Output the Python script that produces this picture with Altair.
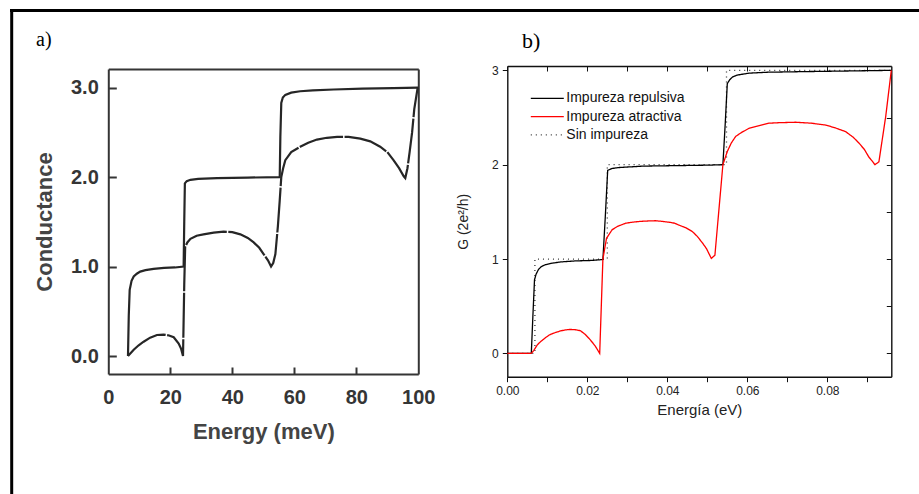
import altair as alt
import pandas as pd

# ---------------- data: panel a (scanned figure, Energy in meV) ----------------
a_up_e = [6.35, 6.6, 6.9, 7.5, 8.2, 9.2, 10.3, 12.0, 14.6, 18.0, 21.5, 24.3, 24.5, 24.7, 25.3,
          26.5, 29.0, 35.1, 45.0, 55.3, 55.5, 55.8, 56.3, 57.1, 59.0, 61.9, 66.0, 72.7, 82.0, 92.0, 100.0]
a_up_g = [0.0, 0.45, 0.74, 0.84, 0.89, 0.92, 0.944, 0.96, 0.975, 0.985, 0.99, 1.0, 1.5, 1.93, 1.955,
          1.97, 1.98, 1.99, 1.995, 2.0, 2.45, 2.83, 2.89, 2.92, 2.945, 2.96, 2.97, 2.98, 2.99, 2.995, 3.0]

a_low_e = [6.35, 8.2, 9.8, 11.4, 13.5, 15.7, 17.8, 19.6, 21.1, 22.7, 23.5, 24.1, 24.5, 24.8, 25.5,
           26.5, 28.5, 30.7, 34.0, 37.2, 40.0, 42.6, 45.0, 46.9, 48.7, 50.1, 51.5, 52.5, 53.2, 53.9,
           54.7, 55.3, 55.8, 56.4, 57.1, 59.0, 61.9, 64.5, 67.3, 70.5, 73.8, 77.5, 81.3, 84.5, 87.7,
           90.0, 92.0, 93.8, 95.3, 95.8, 96.5, 97.2, 98.0, 98.7, 99.8]
a_low_g = [0.0, 0.07, 0.12, 0.16, 0.205, 0.235, 0.24, 0.23, 0.21, 0.14, 0.08, 0.0, 0.8, 1.22, 1.27,
           1.31, 1.345, 1.36, 1.38, 1.39, 1.385, 1.36, 1.32, 1.27, 1.21, 1.14, 1.07, 1.0, 1.04, 1.14,
           1.45, 1.74, 2.0, 2.1, 2.19, 2.28, 2.34, 2.385, 2.42, 2.44, 2.45, 2.45, 2.43, 2.4, 2.34,
           2.28, 2.19, 2.1, 2.01, 1.99, 2.1, 2.28, 2.5, 2.76, 3.0]

a_xticks = [0, 20, 40, 60, 80, 100]
a_xticks_inner = [20, 40, 60, 80]
a_yticks = [0, 1, 2, 3]

# ---------------- data: panel b (Energía in eV) ----------------
series_names = ["Impureza repulsiva", "Impureza atractiva", "Sin impureza"]

b_rep_e = [0.0, 0.0060, 0.0064, 0.0068, 0.0072, 0.0078, 0.0085, 0.0095, 0.011, 0.0135,
           0.017, 0.021, 0.0239, 0.0245, 0.0251, 0.0262, 0.028, 0.034, 0.042, 0.050,
           0.0539, 0.0545, 0.0550, 0.0556, 0.0563, 0.0575, 0.0604, 0.065, 0.072, 0.080,
           0.088, 0.096]
b_rep_g = [0.0, 0.0, 0.4, 0.78, 0.84, 0.89, 0.92, 0.94, 0.955, 0.97,
           0.98, 0.985, 0.995, 1.45, 1.94, 1.96, 1.97, 1.985, 1.99, 1.995,
           2.0, 2.45, 2.86, 2.9, 2.93, 2.95, 2.97, 2.98, 2.985, 2.99,
           2.995, 3.0]

b_atr_e = [0.0, 0.0060, 0.0066, 0.0075, 0.0083, 0.0095, 0.0105, 0.0113, 0.0125, 0.0135,
           0.0147, 0.0158, 0.0172, 0.0183, 0.0195, 0.0204, 0.0214, 0.0221, 0.0231, 0.0239,
           0.0248, 0.0262, 0.0275, 0.0296, 0.0315, 0.0335, 0.0355, 0.0371, 0.0390, 0.0405,
           0.0418, 0.0429, 0.0447, 0.0463, 0.0475, 0.0488, 0.0498, 0.0510, 0.0519, 0.0539,
           0.0550, 0.0560, 0.0571, 0.0585, 0.0604, 0.0625, 0.0654, 0.0680, 0.0721, 0.0760,
           0.0796, 0.0820, 0.0846, 0.0865, 0.0879, 0.0893, 0.0904, 0.0912, 0.0919, 0.0929,
           0.0946, 0.0960]
b_atr_g = [0.0, 0.0, 0.03, 0.09, 0.124, 0.165, 0.195, 0.21, 0.228, 0.24,
           0.25, 0.254, 0.25, 0.24, 0.2, 0.16, 0.11, 0.07, 0.0, 1.0,
           1.22, 1.31, 1.345, 1.38, 1.392, 1.4, 1.404, 1.406, 1.398, 1.39,
           1.38, 1.36, 1.33, 1.29, 1.24, 1.17, 1.11, 1.007, 1.04, 2.0,
           2.14, 2.23, 2.3, 2.34, 2.385, 2.41, 2.44, 2.445, 2.45, 2.44,
           2.42, 2.39, 2.35, 2.29, 2.23, 2.16, 2.08, 2.04, 2.0, 2.03,
           2.51, 3.0]

b_sin_e = [0.0, 0.0069, 0.0069, 0.0250, 0.0250, 0.0548, 0.0548, 0.096]
b_sin_g = [0, 0, 1, 1, 2, 2, 3, 3]

b_xticks = [0.0, 0.01, 0.02, 0.03, 0.04, 0.05, 0.06, 0.07, 0.08, 0.09]
b_yticks = [0, 1, 2, 3]
b_yticks_minor = [0, 0.5, 1, 1.5, 2, 2.5, 3]

# ---------------- layout (pixels in a 919x494 canvas) ----------------
W, H = 919, 494
A_XR = [108.3, 418.3]
A_YR = [374.0, 69.0]
A_XD = [0, 100]
A_YD = [-0.201, 3.209]
B_XR = [507.3, 891.3]
B_YR = [376.7, 66.0]
B_XD = [0, 0.096]
B_YD = [-0.247, 3.046]

GREY = "#353535"
TGREY = "#444444"
SANS = "Liberation Sans"
SERIF = "Liberation Serif"

df_a_up = pd.DataFrame({"E": a_up_e, "G": a_up_g})
df_a_low = pd.DataFrame({"E": a_low_e, "G": a_low_g})

rows = []
for name, es, gs in [(series_names[2], b_sin_e, b_sin_g),
                     (series_names[0], b_rep_e, b_rep_g),
                     (series_names[1], b_atr_e, b_atr_g)]:
    for k, (e, g) in enumerate(zip(es, gs)):
        rows.append({"serie": name, "E": e, "G": g, "i": k})
df_b = pd.DataFrame(rows)


def ax_scale(dom, rng):
    return alt.Scale(domain=dom, range=rng, nice=False, zero=False)


# ---------- panel a ----------
a_x_sc = ax_scale(A_XD, A_XR)
a_y_sc = ax_scale(A_YD, A_YR)

a_main = alt.Chart(df_a_up).mark_line(color="#262626", strokeWidth=2.2).encode(
    x=alt.X("E:Q", scale=a_x_sc, axis=alt.Axis(
        orient="bottom", offset=A_YR[0] - H, values=a_xticks, ticks=False,
        domain=True, domainColor=GREY, domainWidth=2,
        labelFont=SANS, labelFontSize=20, labelFontWeight="bold", labelColor=GREY,
        labelPadding=13, labelFlush=False,
        title="Energy (meV)", titleFont=SANS, titleFontSize=22, titleFontWeight="bold",
        titleColor=TGREY, titlePadding=14)),
    y=alt.Y("G:Q", scale=a_y_sc, axis=alt.Axis(
        orient="left", offset=-A_XR[0], values=a_yticks, format=".1f", ticks=False,
        domain=True, domainColor=GREY, domainWidth=2,
        labelFont=SANS, labelFontSize=20, labelFontWeight="bold", labelColor=GREY,
        labelPadding=10,
        title="Conductance", titleFont=SANS, titleFontSize=22, titleFontWeight="bold",
        titleColor=TGREY, titlePadding=14)),
)

a_low = alt.Chart(df_a_low).mark_line(color="#262626", strokeWidth=2.2, strokeDash=[45, 1.5]).encode(
    x=alt.X("E:Q", scale=a_x_sc, axis=alt.Axis(
        orient="top", offset=-A_YR[0], values=a_xticks_inner, domain=False, labels=False,
        ticks=True, tickSize=7, tickWidth=2, tickColor=GREY, title=None)),
    y=alt.Y("G:Q", scale=a_y_sc, axis=alt.Axis(
        orient="right", offset=A_XR[0] - W, values=a_yticks, domain=False, labels=False,
        ticks=True, tickSize=8, tickWidth=2, tickColor=GREY, title=None)),
)

a_frame = alt.Chart(df_a_up).mark_line(opacity=0).encode(
    x=alt.X("E:Q", scale=a_x_sc, axis=alt.Axis(
        orient="bottom", offset=A_YR[1] - H, domain=True, domainColor=GREY, domainWidth=2,
        ticks=False, labels=False, title=None)),
    y=alt.Y("G:Q", scale=a_y_sc, axis=alt.Axis(
        orient="left", offset=-A_XR[1], domain=True, domainColor=GREY, domainWidth=2,
        ticks=False, labels=False, title=None)),
)

# ---------- panel b ----------
b_x_sc = ax_scale(B_XD, B_XR)
b_y_sc = ax_scale(B_YD, B_YR)

b_main = alt.Chart(df_b).mark_line(strokeWidth=1.3).encode(
    x=alt.X("E:Q", scale=b_x_sc, axis=alt.Axis(
        orient="bottom", offset=B_YR[0] - H, values=b_xticks,
        labelExpr="round(datum.value*100) % 2 == 0 ? format(datum.value, '.2f') : ''",
        tickSize=5, tickWidth=1, tickColor="#111", domainColor="#111", domainWidth=1.4,
        labelFont=SANS, labelFontSize=12, labelColor="#222", labelPadding=4, labelFlush=False,
        title="Energía (eV)", titleFont=SANS, titleFontSize=15, titleFontWeight="normal",
        titleColor="#222", titlePadding=6)),
    y=alt.Y("G:Q", scale=b_y_sc, axis=alt.Axis(
        orient="left", offset=-B_XR[0], values=b_yticks, format="d",
        tickSize=5, tickWidth=1, tickColor="#111", domainColor="#111", domainWidth=1.4,
        labelFont=SANS, labelFontSize=12, labelColor="#222", labelPadding=4,
        title="G (2e²/h)", titleFont=SANS, titleFontSize=14, titleFontWeight="normal",
        titleColor="#222", titlePadding=21)),
    color=alt.Color("serie:N", scale=alt.Scale(domain=series_names,
                                              range=["#000000", "#ff0000", "#333333"]),
                    legend=alt.Legend(
                        title=None, orient="none", legendX=540.3, legendY=91.3, padding=0,
                        symbolType="M-3,0H3", symbolSize=121, symbolStrokeWidth=1.3,
                        labelFont=SANS, labelFontSize=14, labelColor="#111",
                        labelOffset=12, rowPadding=4.3)),
    strokeDash=alt.StrokeDash("serie:N", scale=alt.Scale(domain=series_names,
                                                        range=[[1, 0], [1, 0], [1, 4]])),
    order="i:Q",
)

b_frame = alt.Chart(df_b).mark_line(opacity=0).encode(
    x=alt.X("E:Q", scale=b_x_sc, axis=alt.Axis(
        orient="bottom", offset=B_YR[1] - H, values=b_xticks, labels=False,
        tickSize=5, tickWidth=1, tickColor="#111", domainColor="#111", domainWidth=1.4,
        title=None)),
    y=alt.Y("G:Q", scale=b_y_sc, axis=alt.Axis(
        orient="left", offset=-B_XR[1], values=b_yticks_minor, labels=False,
        tickSize=5, tickWidth=1, tickColor="#111", domainColor="#111", domainWidth=1.4,
        title=None)),
    detail="serie:N",
)

# ---------- panel letters and outer frame ----------
lab_a = alt.Chart(pd.DataFrame({"t": ["a)"]})).mark_text(
    font=SERIF, fontSize=20, align="left", baseline="alphabetic", color="#000"
).encode(x=alt.value(36), y=alt.value(46), text="t:N")
lab_b = alt.Chart(pd.DataFrame({"t": ["b)"]})).mark_text(
    font=SERIF, fontSize=22, align="left", baseline="alphabetic", color="#000"
).encode(x=alt.value(522), y=alt.value(47.5), text="t:N")

border_top = alt.Chart(pd.DataFrame({"k": [0]})).mark_rule(color="#000", strokeWidth=3).encode(
    x=alt.value(10), x2=alt.value(W), y=alt.value(10.5))
border_left = alt.Chart(pd.DataFrame({"k": [0]})).mark_rule(color="#000", strokeWidth=3).encode(
    x=alt.value(11.7), y=alt.value(9), y2=alt.value(H))

chart = alt.layer(
    border_top, border_left, lab_a, lab_b,
    a_frame, a_main, a_low,
    b_frame, b_main,
).resolve_scale(
    x="independent", y="independent"
).properties(
    width=W, height=H, autosize=alt.AutoSizeParams(type="none"), padding=0,
    background="#ffffff",
).configure_view(stroke="transparent").configure_axis(grid=False)

chart.save("out.html", embed_options={"renderer": "svg", "actions": False})
